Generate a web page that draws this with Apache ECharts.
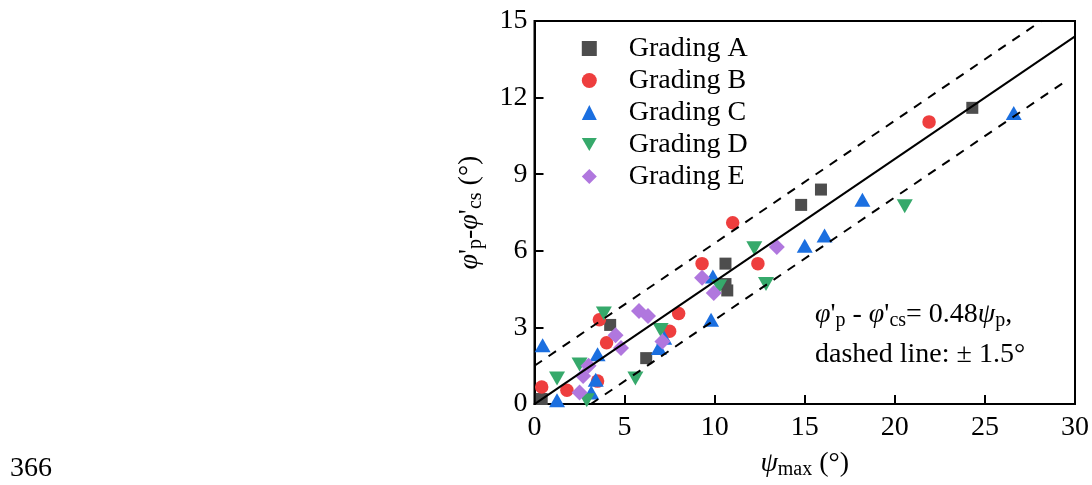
<!DOCTYPE html>
<html>
<head>
<meta charset="utf-8">
<script src="https://cdn.jsdelivr.net/npm/echarts@6/dist/echarts.min.js"></script>
<style>
html,body{margin:0;padding:0;background:#fff;}
#chart{width:1092px;height:485px;}
</style>
</head>
<body>
<div id="chart"></div>
<script>
var gradingA = [[0.4,0.2],[4.2,3.1],[6.2,1.8],[10.6,5.5],[10.6,4.7],[10.7,4.45],[14.8,7.8],[15.9,8.4],[24.3,11.6]];
var gradingB = [[0.4,0.67],[1.8,0.54],[3.5,0.9],[3.6,3.3],[4.0,2.4],[7.5,2.85],[8.0,3.55],[9.3,5.5],[11.0,7.1],[12.4,5.5],[21.9,11.05]];
var gradingC = [[0.45,2.3],[1.25,0.15],[3.15,0.45],[3.4,0.95],[3.5,1.95],[6.9,2.2],[7.2,2.6],[9.8,3.3],[9.9,5.0],[15.0,6.2],[16.1,6.6],[18.2,8.0],[26.6,11.4]];
var gradingD = [[1.25,1.0],[2.5,1.55],[2.9,0.15],[3.85,3.55],[5.6,1.0],[7.0,2.9],[10.25,4.6],[12.2,6.1],[12.85,4.7],[20.55,7.75]];
var gradingE = [[2.5,0.45],[2.7,1.1],[3.0,1.5],[4.5,2.7],[4.8,2.2],[5.8,3.65],[6.3,3.45],[7.1,2.45],[9.3,4.95],[9.95,4.35],[13.45,6.15]];
var fitLine = [[0,0],[30,14.4]];
var upperLine = [[0,1.5],[28.125,15]];
var lowerLine = [[3.125,0],[29.6,12.7]];
var xTicks = {min:0, max:30, interval:5};
var yTicks = {min:0, max:15, interval:3};
var seriesNames = ['Grading A','Grading B','Grading C','Grading D','Grading E'];

var FONT = 'Liberation Serif';
var rich = {
  i: {fontFamily: FONT, fontStyle: 'italic', fontSize: 28, lineHeight: 34, color: '#000'},
  n: {fontFamily: FONT, fontSize: 28, lineHeight: 34, color: '#000'},
  s: {fontFamily: FONT, fontSize: 20, lineHeight: 20, padding: [13,0,0,0], color: '#000'}
};
var downTri = 'path://M0,0 L16,0 L8,14 Z';

var chart = echarts.init(document.getElementById('chart'));
function scatter(name, data, symbol, size, color, rotate) {
  return {
    name: name, type: 'scatter', data: data, symbol: symbol, symbolSize: size,
    symbolRotate: rotate || 0,
    itemStyle: {color: color, opacity: 1}, z: 2, silent: true
  };
}
function line(data, dashed) {
  return {
    type: 'line', data: data, symbol: 'none', silent: true, z: 5,
    lineStyle: {color: '#000', width: 2, type: dashed ? [9, 8] : 'solid'},
    clip: true
  };
}
chart.setOption({
  animation: false,
  backgroundColor: '#fff',
  grid: {left: 534.5, right: 14.5, top: 21, bottom: 80.5, show: true, borderColor: '#000', borderWidth: 2},
  legend: {
    data: seriesNames.map(function(n){
      return n === 'Grading D' ? {name: n, icon: downTri} : {name: n};
    }),
    orient: 'vertical', left: 576.8, top: 29.5,
    itemWidth: 15, itemHeight: 15, itemGap: 4,
    textStyle: {fontFamily: FONT, fontSize: 28, lineHeight: 28, color: '#000', padding: [0,0,0,27]},
    selectedMode: false
  },
  xAxis: {
    type: 'value', min: xTicks.min, max: xTicks.max, interval: xTicks.interval,
    axisLine: {show: true, lineStyle: {color: '#000', width: 2}},
    axisTick: {show: true, inside: true, length: 9, lineStyle: {color: '#000', width: 2}},
    axisLabel: {fontFamily: FONT, fontSize: 28, color: '#000', margin: 10},
    splitLine: {show: false},
    name: '{i|ψ}{s|max}{n| (°)}', nameLocation: 'middle', nameGap: 42,
    nameTextStyle: {rich: rich}
  },
  yAxis: {
    type: 'value', min: yTicks.min, max: yTicks.max, interval: yTicks.interval,
    axisLine: {show: true, lineStyle: {color: '#000', width: 2}},
    axisTick: {show: true, inside: true, length: 9, lineStyle: {color: '#000', width: 2}},
    axisLabel: {fontFamily: FONT, fontSize: 28, color: '#000', margin: 7},
    splitLine: {show: false},
    name: "{i|φ}{n|'}{s|p}{n|-}{i|φ}{n|'}{s|cs}{n| (°)}", nameLocation: 'middle', nameGap: 48,
    nameTextStyle: {rich: rich}
  },
  graphic: [
    {type: 'text', left: 815, top: 298, silent: true,
     style: {text: "{i|φ}{n|'}{s|p}{n| - }{i|φ}{n|'}{s|cs}{n|= 0.48}{i|ψ}{s|p}{n|,}", rich: rich}},
    {type: 'text', left: 815, top: 341, silent: true,
     style: {text: "dashed line: ± 1.5°", fontFamily: FONT, fontSize: 28, fill: '#000'}},
    {type: 'text', left: 10, top: 455, silent: true,
     style: {text: '366', fontFamily: FONT, fontSize: 28, fill: '#000'}}
  ],
  series: [
    scatter('Grading A', gradingA, 'rect', 12, '#4d4d4d'),
    scatter('Grading B', gradingB, 'circle', 13.5, '#ee3e3e'),
    scatter('Grading C', gradingC, 'triangle', [16, 14], '#1b6fe0'),
    scatter('Grading D', gradingD, 'triangle', [16, 14], '#36a96b', 180),
    scatter('Grading E', gradingE, 'diamond', [16, 16], '#b077de'),
    line(fitLine, false),
    line(upperLine, true),
    line(lowerLine, true)
  ]
});
</script>
</body>
</html>
